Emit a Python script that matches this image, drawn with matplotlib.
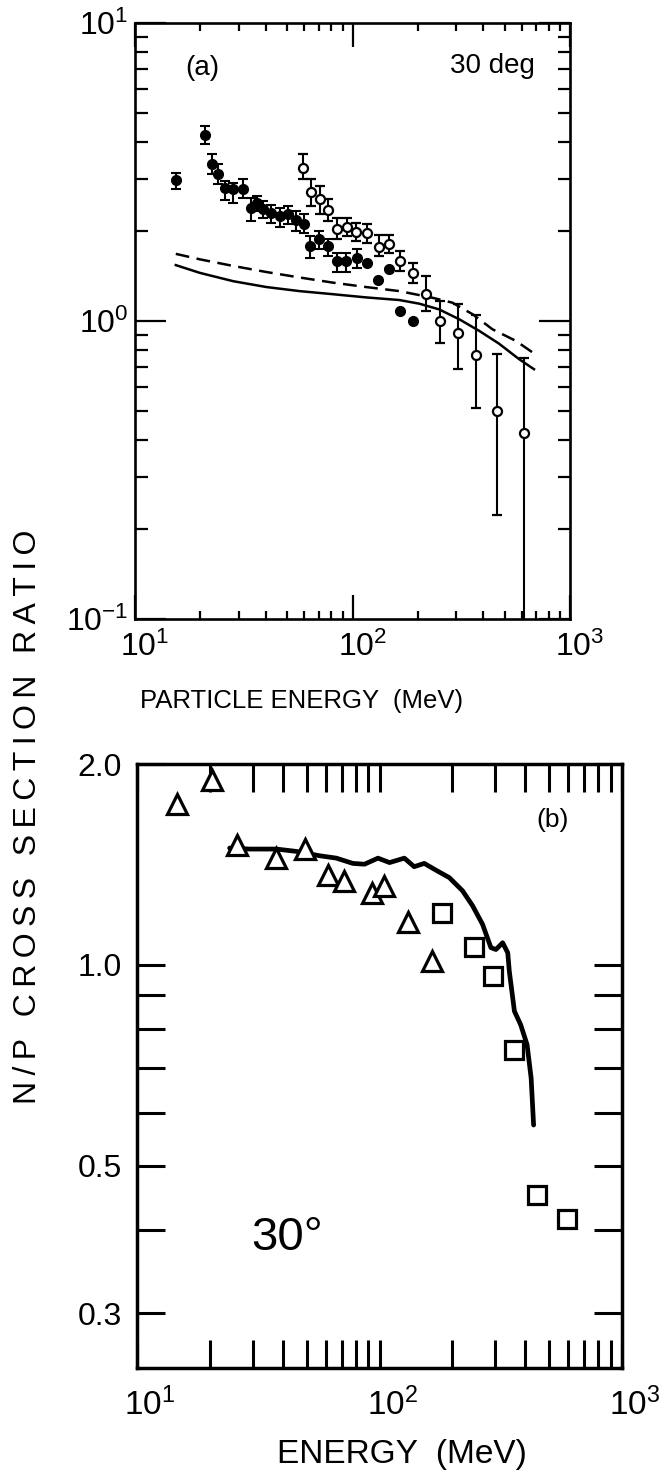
import matplotlib
matplotlib.use("Agg")
import matplotlib.pyplot as plt
import matplotlib.transforms as mtransforms
import numpy as np
from matplotlib import font_manager
from matplotlib.ticker import FixedLocator, FixedFormatter, NullFormatter

_names = {f.name for f in font_manager.fontManager.ttflist}
SANS = "Liberation Sans" if "Liberation Sans" in _names else "DejaVu Sans"
NARROW = "Liberation Sans Narrow" if "Liberation Sans Narrow" in _names else SANS
FAM = [SANS, "DejaVu Sans"]

# ---------------- Panel (a) data ----------------
a_filled_E = [15.4, 21.0, 22.7, 24.1, 25.9, 28.3, 31.4, 34.0, 36.2, 38.8, 42.4, 46.3, 50.5,
              55.2, 59.6, 63.9, 70.0, 77.0, 84.7, 93.5, 104.7, 116.8, 130.6, 147.8, 166, 189]
a_filled_R = [2.97, 4.21, 3.37, 3.12, 2.80, 2.77, 2.77, 2.40, 2.48, 2.37, 2.31, 2.25, 2.28,
              2.19, 2.11, 1.78, 1.89, 1.78, 1.59, 1.59, 1.63, 1.57, 1.37, 1.50, 1.08, 1.00]
a_filled_lo = [2.77, 3.92, 3.11, 2.88, 2.54, 2.49, 2.59, 2.17, 2.34, 2.22, 2.14, 2.06, 2.11,
               2.00, 1.98, 1.63, 1.74, 1.65, 1.46, 1.46, 1.51, 1.57, 1.37, 1.50, 1.08, 1.00]
a_filled_hi = [3.15, 4.51, 3.64, 3.36, 2.95, 2.91, 2.99, 2.59, 2.63, 2.53, 2.46, 2.40, 2.43,
               2.34, 2.28, 1.93, 2.00, 1.88, 1.69, 1.69, 1.75, 1.57, 1.37, 1.50, 1.08, 1.00]

a_open_E = [59.2, 64.6, 70.6, 77.3, 85.1, 94.6, 104, 116.8, 132, 147, 166, 189, 218, 252,
            304, 369, 464, 615]
a_open_R = [3.27, 2.71, 2.56, 2.35, 2.04, 2.07, 1.99, 1.98, 1.77, 1.81, 1.59, 1.45, 1.235,
            1.00, 0.914, 0.767, 0.499, 0.422]
a_open_lo = [2.99, 2.43, 2.28, 2.17, 1.88, 1.93, 1.86, 1.83, 1.65, 1.69, 1.47, 1.34, 1.08,
             0.846, 0.688, 0.51, 0.223, 0.05]
a_open_hi = [3.63, 2.99, 2.84, 2.56, 2.22, 2.22, 2.14, 2.12, 1.95, 1.95, 1.72, 1.57, 1.415,
             1.167, 1.137, 1.05, 0.773, 0.75]

a_solid_E = [15.4, 19.9, 28.3, 40.2, 57.0, 81.3, 115.5, 164, 203, 250, 310, 383, 471, 583, 683]
a_solid_R = [1.54, 1.45, 1.36, 1.30, 1.26, 1.23, 1.20, 1.176, 1.143, 1.094, 1.013, 0.926,
             0.84, 0.745, 0.689]
a_dash_E = [15.4, 19.9, 28.3, 40.2, 57.0, 81.3, 115.5, 164, 233, 288, 357, 440, 565, 710]
a_dash_R = [1.68, 1.61, 1.53, 1.46, 1.40, 1.345, 1.30, 1.26, 1.197, 1.152, 1.053, 0.938,
            0.857, 0.763]

a_xticks = [10, 100, 1000]
a_xticklabels = ["1", "2", "3"]
a_yticks = [0.1, 1, 10]
a_yticklabels = ["-1", "0", "1"]

# ---------------- Panel (b) data ----------------
b_tri_E = [14.6, 20.3, 25.9, 37.6, 49.4, 61.3, 71.7, 92.9, 104, 131, 164]
b_tri_R = [1.74, 1.89, 1.51, 1.445, 1.49, 1.362, 1.336, 1.279, 1.313, 1.159, 1.013]
b_sq_E = [181, 246, 293, 360, 448, 595]
b_sq_R = [1.197, 1.063, 0.962, 0.746, 0.451, 0.415]
b_curve_E = [24.1, 29.2, 37.6, 45.4, 56.6, 66.4, 77.6, 86.7, 98.6, 110, 126.6, 139, 153,
             171, 194, 220, 242, 266, 288, 302, 322, 338, 343, 360, 382, 406, 422, 432]
b_curve_R = [1.496, 1.491, 1.491, 1.479, 1.457, 1.445, 1.419, 1.415, 1.445, 1.423, 1.445,
             1.403, 1.419, 1.386, 1.351, 1.291, 1.226, 1.150, 1.061, 1.054, 1.079, 1.042,
             0.978, 0.852, 0.813, 0.759, 0.676, 0.575]

b_xticks = [10, 100, 1000]
b_xticklabels = ["1", "2", "3"]
b_xminor = [20, 30, 40, 50, 60, 70, 80, 90, 200, 300, 400, 500, 600, 700, 800, 900]
b_yticks = [0.3, 0.5, 1.0, 2.0]
b_yticklabels = ["0.3", "0.5", "1.0", "2.0"]
b_yminor = [0.4, 0.6, 0.7, 0.8, 0.9]

# ---------------- Figure ----------------
W, H = 668, 1479
fig = plt.figure(figsize=(W / 100, H / 100), dpi=100)


def pow_labels(exps):
    return [r"$\mathregular{10^{%s}}$" % e for e in exps]


def spaced(s, sep="\u2009"):
    return sep.join(list(s))


def shift_labels(labels, dx_px):
    off = mtransforms.ScaledTranslation(dx_px / 100, 0, fig.dpi_scale_trans)
    for lab in labels:
        lab.set_transform(lab.get_transform() + off)


# ---- Panel (a)
axa = fig.add_axes([135 / W, 1 - 619 / H, 435 / W, 596 / H])
axa.set_xscale("log")
axa.set_yscale("log")

axa.plot(a_solid_E, a_solid_R, color="black", lw=1.8, zorder=2)
axa.plot(a_dash_E, a_dash_R, color="black", lw=1.8, ls=(0, (5.5, 3.0)), zorder=2)

fR = np.array(a_filled_R)
axa.errorbar(a_filled_E, fR, yerr=[fR - np.array(a_filled_lo), np.array(a_filled_hi) - fR],
             fmt="o", ms=7, mfc="black", mec="black", ecolor="black", elinewidth=1.5,
             capsize=3.5, capthick=1.5, zorder=4)
oR = np.array(a_open_R)
axa.errorbar(a_open_E, oR, yerr=[oR - np.array(a_open_lo), np.array(a_open_hi) - oR],
             fmt="o", ms=6.5, mfc="white", mec="black", mew=1.6, ecolor="black",
             elinewidth=1.5, capsize=3.5, capthick=1.5, zorder=3)

axa.set_xlim(10, 1000)
axa.set_ylim(0.1, 10)
axa.xaxis.set_major_locator(FixedLocator(a_xticks))
axa.xaxis.set_major_formatter(FixedFormatter(pow_labels(a_xticklabels)))
axa.yaxis.set_major_locator(FixedLocator(a_yticks))
axa.yaxis.set_major_formatter(FixedFormatter(pow_labels(a_yticklabels)))
axa.xaxis.set_minor_locator(matplotlib.ticker.LogLocator(base=10, subs=range(2, 10)))
axa.yaxis.set_minor_locator(matplotlib.ticker.LogLocator(base=10, subs=range(2, 10)))
axa.xaxis.set_minor_formatter(NullFormatter())
axa.yaxis.set_minor_formatter(NullFormatter())
axa.tick_params(which="both", direction="in", top=True, right=True, width=1.6, color="black")
axa.tick_params(axis="x", which="major", length=17, pad=9)
axa.tick_params(axis="x", which="minor", length=6)
axa.tick_params(axis="y", which="major", length=22, pad=5)
axa.tick_params(axis="y", which="minor", length=9)
for lab in axa.get_xticklabels() + axa.get_yticklabels():
    lab.set_fontfamily(NARROW)
    lab.set_fontsize(23)
shift_labels(axa.get_xticklabels(), 10)
for s in axa.spines.values():
    s.set_linewidth(1.9)

fig.text(202 / W, 1 - 68 / H, "(a)", fontsize=20, family=FAM, ha="center", va="center")
fig.text(535 / W, 1 - 66 / H, "30 deg", fontsize=20, family=FAM, ha="right", va="center")
fig.text(302 / W, 1 - 701 / H, "PARTICLE ENERGY  (MeV)", fontsize=18.5, family=FAM,
         ha="center", va="center")

# ---- Panel (b)
axb = fig.add_axes([137 / W, 1 - 1368 / H, 485 / W, 604 / H])
axb.set_xscale("log")
axb.set_yscale("log")
axb.plot(b_curve_E, b_curve_R, color="black", lw=3.4, solid_capstyle="round",
         solid_joinstyle="round", zorder=2)
axb.plot(b_tri_E, b_tri_R, ls="none", marker="^", ms=15, mfc="white", mec="black",
         mew=2.3, zorder=3, clip_on=False)
axb.plot(b_sq_E, b_sq_R, ls="none", marker="s", ms=13.5, mfc="white", mec="black",
         mew=2.3, zorder=3, clip_on=False)
axb.set_xlim(10, 1000)
axb.set_ylim(0.2485, 2.0)
axb.xaxis.set_major_locator(FixedLocator(b_xticks))
axb.xaxis.set_major_formatter(FixedFormatter(pow_labels(b_xticklabels)))
axb.xaxis.set_minor_locator(FixedLocator(b_xminor))
axb.xaxis.set_minor_formatter(NullFormatter())
axb.yaxis.set_major_locator(FixedLocator(b_yticks))
axb.yaxis.set_major_formatter(FixedFormatter(b_yticklabels))
axb.yaxis.set_minor_locator(FixedLocator(b_yminor))
axb.yaxis.set_minor_formatter(NullFormatter())
axb.tick_params(which="both", direction="in", top=True, right=True, width=2.2,
                length=20, color="black")
axb.tick_params(axis="x", which="major", pad=14)
axb.tick_params(axis="y", which="major", pad=11)
for lab in axb.get_xticklabels():
    lab.set_fontfamily(NARROW)
    lab.set_fontsize(24)
shift_labels(axb.get_xticklabels(), 13)
for lab in axb.get_yticklabels():
    lab.set_fontfamily(SANS)
    lab.set_fontsize(23)
for s in axb.spines.values():
    s.set_linewidth(2.5)

fig.text(553 / W, 1 - 820 / H, "(b)", fontsize=19, family=FAM, ha="center", va="center")
fig.text(287 / W, 1 - 1238 / H, "30°", fontsize=34, family=FAM, ha="center", va="center")
fig.text(402 / W, 1 - 1454 / H, "ENERGY  (MeV)", fontsize=24, family=FAM,
         ha="center", va="center")

fig.text(28 / W, 1 - 817 / H, spaced("N/P CROSS SECTION RATIO"), fontsize=23, family=FAM,
         rotation=90, ha="center", va="center")

fig.savefig("out.png", dpi=100, facecolor="white")
